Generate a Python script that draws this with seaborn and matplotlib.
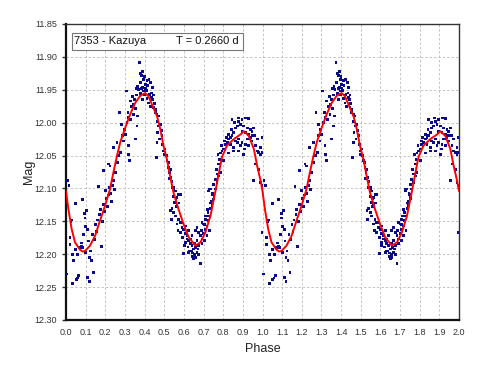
import numpy as np
import pandas as pd
import matplotlib
matplotlib.use("Agg")
import matplotlib.pyplot as plt
from matplotlib.patches import Rectangle
import seaborn as sns

# ---- observed points (phase 0..1), repeated at phase+1 ----
obs_phase = [
 0.005,0.008,0.015,0.020,0.020,0.025,0.030,0.035,0.035,0.040,0.050,0.050,0.052,0.058,0.060,0.065,0.070,0.082,0.078,0.080,
 0.085,0.090,0.095,0.097,0.100,0.100,0.105,0.110,0.110,0.115,0.120,0.120,0.125,0.130,0.135,0.140,0.145,0.150,0.155,0.160,
 0.165,0.170,0.175,0.180,0.185,0.190,0.195,0.200,0.205,0.210,0.215,0.220,0.225,0.230,0.235,0.240,0.245,
 0.190,0.216,0.224,0.250,0.241,0.259,0.279,0.293,0.301,0.284,0.272,0.310,0.318,0.306,0.327,0.335,0.344,0.318,0.320,0.325,
 0.352,0.361,0.340,0.262,0.268,0.286,0.296,0.315,0.330,0.345,0.350,0.355,0.360,0.365,
 0.374,0.386,0.395,0.378,0.364,0.357,0.369,0.391,0.403,0.412,0.422,0.432,0.439,0.398,0.412,0.420,0.429,0.442,0.449,0.425,
 0.408,0.381,0.388,0.454,0.463,0.380,0.390,0.400,0.405,0.415,0.385,0.395,0.418,0.435,0.445,
 0.437,0.445,0.454,0.463,0.471,0.480,0.466,0.476,0.463,0.488,0.493,0.497,0.504,0.459,0.514,0.522,0.531,0.527,0.534,0.548,
 0.556,0.565,0.573,0.470,0.485,0.500,0.510,0.520,0.540,0.525,
 0.548,0.556,0.560,0.553,0.565,0.539,0.548,0.536,0.556,0.573,0.565,0.582,0.590,0.570,0.582,0.599,0.607,0.594,0.616,0.624,
 0.607,0.633,0.621,0.641,0.650,0.638,0.655,0.645,0.658,0.667,0.672,0.675,0.655,0.667,0.684,0.692,0.675,0.658,0.689,0.667,
 0.701,0.709,0.701,0.692,0.718,0.709,0.726,0.723,0.735,0.743,0.740,0.752,0.747,0.760,0.769,0.777,0.786,0.684,0.650,0.633,
 0.616,0.604,0.624,0.641,0.624,0.607,0.590,0.675,0.692,0.706,0.718,0.730,0.597,0.630,0.645,0.660,0.541,0.549,0.561,0.575,
 0.583,0.532,0.728,0.745,0.753,0.736,0.719,0.711,0.723,0.706,
 0.726,0.735,0.752,0.760,0.769,0.764,0.777,0.781,0.774,0.786,0.794,0.803,0.791,0.811,0.808,0.820,0.828,0.815,0.837,0.845,
 0.828,0.854,0.842,0.862,0.871,0.859,0.879,0.845,0.876,0.896,0.913,0.930,0.888,0.905,0.922,0.896,0.913,0.930,0.939,0.947,
 0.956,0.939,0.922,0.947,0.913,0.896,0.879,0.871,0.888,0.930,0.910,0.879,0.854,0.862,0.837,0.905,0.961,0.973,0.998,0.990,
 0.854,0.828,0.803,0.964,0.973,0.981,0.990,0.998,0.964,0.956,0.981,0.990,0.998,0.947,0.930,0.922,0.998,
]
obs_mag = [
 12.230,12.088,12.096,12.175,12.185,12.150,12.148,12.245,12.200,12.210,12.123,12.193,12.238,12.236,12.200,12.232,12.190,12.117,12.183,12.188,
 12.190,12.170,12.138,12.145,12.158,12.197,12.133,12.163,12.235,12.180,12.205,12.242,12.195,12.210,12.170,12.228,12.178,12.155,12.165,12.148,
 12.097,12.140,12.132,12.188,12.150,12.125,12.135,12.103,12.115,12.128,12.110,12.098,12.108,12.120,12.095,12.088,12.102,
 12.073,12.063,12.066,12.076,12.038,12.030,12.045,12.028,12.018,12.003,11.985,12.000,11.992,11.952,11.967,11.975,11.987,12.035,12.048,12.058,
 12.025,12.005,11.960,12.060,12.050,12.020,12.010,11.985,11.995,11.972,11.965,11.978,11.958,11.990,
 11.909,11.928,11.934,11.939,11.945,11.948,11.950,11.946,11.942,11.936,11.934,11.939,11.947,11.957,11.963,11.970,11.976,11.965,11.971,11.957,
 11.951,11.956,11.965,11.980,11.987,11.925,11.922,11.930,11.948,11.944,11.948,11.952,11.958,11.955,11.958,
 11.962,11.977,11.985,11.998,12.005,12.003,12.015,12.025,12.030,12.020,12.033,12.043,12.040,12.053,12.058,12.068,12.071,12.076,12.083,12.098,
 12.104,12.114,12.109,11.990,12.012,12.048,12.050,12.060,12.090,12.085,
 12.101,12.104,12.116,12.121,12.126,12.131,12.136,12.147,12.142,12.147,12.154,12.152,12.159,12.164,12.167,12.162,12.169,12.174,12.177,12.179,
 12.182,12.184,12.189,12.187,12.192,12.195,12.200,12.203,12.205,12.197,12.192,12.187,12.184,12.179,12.172,12.177,12.167,12.164,12.164,12.159,
 12.169,12.162,12.154,12.152,12.157,12.147,12.142,12.136,12.131,12.126,12.119,12.116,12.109,12.101,12.091,12.081,12.076,12.214,12.207,12.177,
 12.172,12.187,12.197,12.172,12.164,12.157,12.152,12.200,12.184,12.179,12.172,12.164,12.199,12.195,12.198,12.190,12.099,12.112,12.127,12.122,
 12.109,12.134,12.101,12.107,12.114,12.122,12.132,12.142,12.149,12.155,
 12.104,12.101,12.094,12.086,12.078,12.071,12.063,12.056,12.048,12.046,12.043,12.040,12.035,12.033,12.028,12.030,12.025,12.023,12.023,12.020,
 12.018,12.015,12.010,12.008,12.005,12.000,11.998,11.995,11.993,11.995,11.993,11.994,12.003,12.005,12.008,12.013,12.015,12.018,12.010,12.013,
 12.008,12.023,12.025,12.028,12.033,12.030,12.025,12.030,12.035,12.035,12.040,12.043,12.038,12.028,12.033,12.048,12.020,12.025,12.023,12.038,
 12.043,12.046,12.058,12.035,12.043,12.045,12.048,12.045,12.063,12.088,12.071,12.091,12.096,12.020,12.025,11.993,12.167,
]

# ---- fitted curve (phase 0..1), repeated at phase+1 ----
fit_phase = [0.000,0.012,0.029,0.046,0.071,0.085,0.097,0.122,0.148,0.173,0.199,0.224,0.241,0.259,0.276,0.301,
             0.327,0.352,0.378,0.403,0.420,0.437,0.463,0.480,0.496,0.514,0.531,0.547,0.572,0.598,0.624,0.658,
             0.684,0.709,0.735,0.760,0.777,0.794,0.819,0.854,0.888,0.905,0.930,0.956,0.973,0.990,1.000]
fit_mag = [12.104,12.131,12.162,12.182,12.193,12.196,12.195,12.187,12.172,12.149,12.126,12.101,12.076,12.051,12.030,12.008,
           11.987,11.970,11.959,11.955,11.960,11.972,11.990,12.010,12.035,12.056,12.083,12.106,12.131,12.154,12.174,12.187,
           12.182,12.167,12.142,12.105,12.078,12.052,12.035,12.025,12.018,12.013,12.020,12.040,12.066,12.088,12.104]

x_ticks = [round(0.1 * i, 1) for i in range(21)]
y_ticks = [11.85, 11.90, 11.95, 12.00, 12.05, 12.10, 12.15, 12.20, 12.25, 12.30]
title_left = "7353 - Kazuya"
title_right = "T = 0.2660 d"

obs = pd.DataFrame({"phase": list(obs_phase) + [p + 1 for p in obs_phase],
                    "mag": list(obs_mag) + list(obs_mag)})
fit = pd.DataFrame({"phase": list(fit_phase) + [p + 1 for p in fit_phase[1:]],
                    "mag": list(fit_mag) + list(fit_mag[1:])})

sns.set_theme(style="white")
plt.rcParams['font.family'] = ['Liberation Sans', 'DejaVu Sans']

W, H = 482, 369
L, R, T, B = 66, 459, 24, 320
fig = plt.figure(figsize=(W / 100, H / 100), dpi=100)
ax = fig.add_axes([L / W, 1 - B / H, (R - L) / W, (B - T) / H])

sns.scatterplot(data=obs, x="phase", y="mag", ax=ax, marker="s", s=4,
                color="#0a0a8c", edgecolor="none", linewidth=0, zorder=3)
sns.lineplot(data=fit, x="phase", y="mag", ax=ax, sort=False, estimator=None,
             color="#ff0000", linewidth=1.4, zorder=4)

ax.set_xlim(0, 2.0)
ax.set_ylim(12.30, 11.85)
ax.set_xticks(x_ticks)
ax.set_xticklabels([f"{v:.1f}" for v in x_ticks])
ax.set_yticks(y_ticks)
ax.set_yticklabels([f"{v:.2f}" for v in y_ticks])
ax.tick_params(axis="both", labelsize=6.5, labelcolor="#333333", colors="#333333")
ax.tick_params(axis="y", direction="out", length=3, width=1, left=True)
ax.tick_params(axis="x", direction="out", length=0, pad=6)
ax.grid(True, color="#c4c4c4", linestyle=(0, (2.5, 2)), linewidth=0.7)
ax.set_axisbelow(True)
for side in ["left", "bottom"]:
    ax.spines[side].set_linewidth(1.6)
    ax.spines[side].set_color("#111111")
for side in ["top", "right"]:
    ax.spines[side].set_linewidth(1.0)
    ax.spines[side].set_color("#333333")

ax.set_xlabel("Phase", fontsize=9, color="#222222", labelpad=4)
ax.set_ylabel("Mag", fontsize=9, color="#222222", labelpad=-0.5)

# info box (pixel positions converted to axes fractions)
def ax_x(px):
    return (px - L) / (R - L)

def ax_y(py):
    return (B - py) / (B - T)

box = Rectangle((ax_x(72), ax_y(50)), ax_x(243) - ax_x(72), ax_y(33) - ax_y(50),
                transform=ax.transAxes, facecolor="white", edgecolor="#777777",
                linewidth=0.8, zorder=5)
ax.add_patch(box)
ax.text(ax_x(74), ax_y(41.5), title_left, transform=ax.transAxes, ha="left", va="center",
        fontsize=8.0, color="#111111", zorder=6)
ax.text(ax_x(238.5), ax_y(41.5), title_right, transform=ax.transAxes, ha="right", va="center",
        fontsize=8.0, color="#111111", zorder=6)

fig.savefig("out.png", dpi=100)
